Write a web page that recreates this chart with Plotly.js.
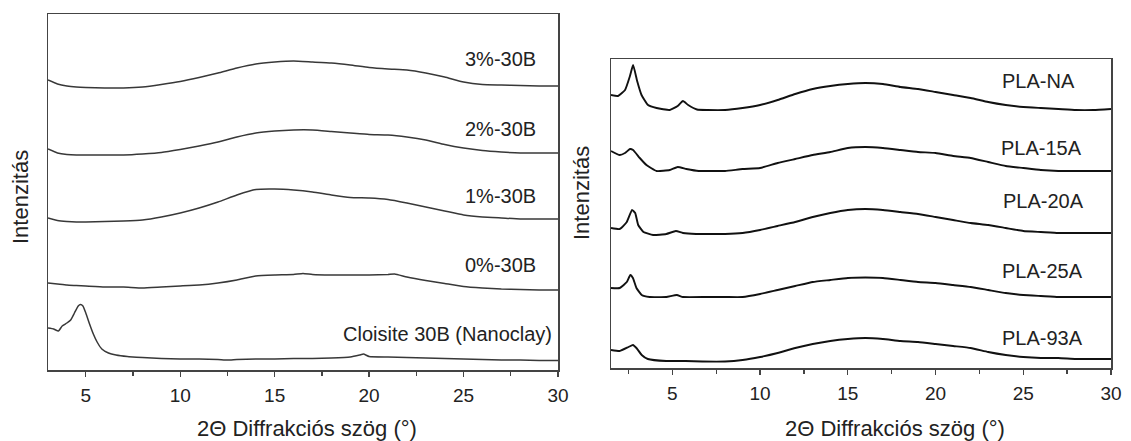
<!DOCTYPE html>
<html>
<head>
<meta charset="utf-8">
<script src="https://cdn.plot.ly/plotly-3.0.1.min.js"></script>
<style>
html,body{margin:0;padding:0;background:#fff;}
#chart{width:1131px;height:441px;}
</style>
</head>
<body>
<div id="chart"></div>
<script>
// ---------- Left panel: PLA / Cloisite 30B ----------
var leftNames = ["3%-30B", "2%-30B", "1%-30B", "0%-30B", "Cloisite 30B (Nanoclay)"];

var x3pct = [3,3.5,4,4.5,5,6,7,8,9,10,11,12,13,14,15,16,17,18,19,20,21,22,23,24,25,26,27,28,29,30];
var y3pct = [290,286,284,283,282.5,282,282,283,285.5,288.5,292.5,297,302,306,308,309,308,307,305,302.5,301,300,297,293,288,285.5,285,284.5,284,284];

var x2pct = [3,3.5,4,4.5,5,6,7,8,9,10,11,12,13,14,15,16,17,18,19,20,21,22,23,24,25,26,27,28,29,30];
var y2pct = [221,217,215.5,215,215,215,215,216,217.5,220.5,224,228,233,237,239,240,240,238.5,237,235.5,235,233,230,225.5,222,219.5,218,217,217,217];

var x1pct = [3,3.5,4,4.5,5,6,7,8,9,10,11,12,13,14,15,16,17,18,19,20,21,22,23,24,25,26,27,28,29,30];
var y1pct = [152,149.5,148.5,148,148,148.5,149,150,153,157,162,168,175,180.5,181,180,178,175,172.5,172,170.5,167,163,159,155,153,152,151,151,151];

var x0pct = [3,3.5,4,4.5,5,6,7,8,9,10,11,12,13,14,15,16,16.5,17,18,19,20,21,21.35,22,23,24,25,26,27,28,29,30];
var y0pct = [87,86,85,84.5,84,83,83,82,83,84,85,87,90,94,95,95.5,96.5,95.5,95,95,95,95.5,96,93,89.5,86.5,83.5,82,81,80.5,80,80];

var xClay = [3,3.3,3.55,3.75,4,4.2,4.4,4.6,4.72,4.85,5,5.2,5.4,5.6,5.85,6.2,6.6,7.2,8,9,10,11,12,12.5,13,14,15,16,17,18,19,19.5,19.7,20,21,22,23,24,25,26,27,28,29,30];
var yClay = [42,41,39,44,47,50,57,64,65.5,64,57,46,36,28,21,17,15,13.5,12.5,11.5,11,11,10.5,10,10.5,11,11,11.5,11.5,12,13,15,16,13.5,13,12.5,12,11.5,11,10.5,10,10,9.5,9.5];

// ---------- Right panel: PLA nanocomposites ----------
var rightNames = ["PLA-NA", "PLA-15A", "PLA-20A", "PLA-25A", "PLA-93A"];

var xNA = [1.5,1.9,2.3,2.58,2.76,2.99,3.24,3.61,4.1,4.85,5.3,5.6,5.9,6.4,7,8,9,10,11,12,13,14,15,16,17,18,19,20,21,22,23,24,25,26,27,28,29,30];
var yNA = [273,272,278,292,303,287,273,263,260,258,262,267,263,258.5,258,258,260,263,268,274,279,282,284,285,284,281,279,276,273,270,266,263,261,260,259,258,258,259];

var x15A = [1.5,2.0,2.3,2.58,2.76,3.14,3.52,4.1,4.85,5.3,5.8,6.5,7,8,9,10,11,12,13,14,15,16,17,18,19,20,21,22,23,24,25,26,27,28,29,30];
var y15A = [217,213,215,219,218,210,203,197,198,201,199,197,197,197,199,200,205,209,213,216,220,221,220,218,216,215,212,210,206,202,200,198,197,197,197,197];

var x20A = [1.5,2.0,2.4,2.7,2.88,3.05,3.35,3.9,4.65,5.2,5.6,6.35,7,8,9,10,11,12,13,14,15,16,17,18,19,20,21,22,23,24,25,26,27,28,29,30];
var y20A = [140,139,146,158,155,143,136,133,134,137,135,134,134,134,135,138,142,146,151,155,158,159,158,156,154,151,148,145,143,140,137,136,135,135,135,135];

var x25A = [1.5,2.0,2.4,2.6,2.75,2.95,3.25,3.7,4.65,5.25,5.6,7,8,9,10,11,12,13,14,15,16,17,18,19,20,21,22,23,24,25,26,27,28,29,30];
var y25A = [80,80,86,93,90,80,73,71,71,73,71,71,71,71,74,78,82,86,88,90,90.5,90,88,86,85,83,81,78,75,73,72,71,71,71,71];

var x93A = [1.5,2.0,2.5,2.75,2.95,3.25,3.6,4.65,5.75,6.7,8,9,10,11,12,13,14,15,16,17,18,19,20,21,22,23,24,25,26,27,28,29,30];
var y93A = [18,17,21,23,20,13,9,7,7,6.5,6.5,8,11,15,20,24,27,29,30,29,27,26,24,22,20,16,13,11,10,10,9,9,9];

var xTitle = "2\u0398 Diffrakci\u00f3s sz\u00f6g (\u00b0)";
var yTitle = "Intenzit\u00e1s";

// ---------- build traces ----------
var leftX = [x3pct, x2pct, x1pct, x0pct, xClay];
var leftY = [y3pct, y2pct, y1pct, y0pct, yClay];
var rightX = [xNA, x15A, x20A, x25A, x93A];
var rightY = [yNA, y15A, y20A, y25A, y93A];

var traces = [];
for (var i = 0; i < leftNames.length; i++) {
  traces.push({
    type: "scatter", mode: "lines", name: leftNames[i],
    x: leftX[i], y: leftY[i], xaxis: "x", yaxis: "y",
    line: {color: "#383838", width: 1.5, shape: "spline", smoothing: 0.4},
    hoverinfo: "skip"
  });
}
for (var j = 0; j < rightNames.length; j++) {
  traces.push({
    type: "scatter", mode: "lines", name: rightNames[j],
    x: rightX[j], y: rightY[j], xaxis: "x2", yaxis: "y2",
    line: {color: "#111111", width: 1.9, shape: "spline", smoothing: 0.4},
    hoverinfo: "skip"
  });
}

// ---------- label anchor positions (layout) ----------
var leftLabelPos = [[28.92, 311], [28.92, 241], [28.92, 174], [28.92, 105], [29.77, 36]];
var rightLabelPos = [[28.07, 287], [28.45, 220.5], [28.58, 167.5], [28.52, 97.5], [28.52, 30.5]];

var txtFont = {family: "Arial, 'Liberation Sans', sans-serif", size: 20, color: "#222"};
var annotations = [];
leftNames.forEach(function (n, k) {
  annotations.push({text: n, x: leftLabelPos[k][0], y: leftLabelPos[k][1], xref: "x", yref: "y",
    xanchor: "right", yanchor: "middle", showarrow: false, font: txtFont});
});
rightNames.forEach(function (n, k) {
  annotations.push({text: n, x: rightLabelPos[k][0], y: rightLabelPos[k][1], xref: "x2", yref: "y2",
    xanchor: "right", yanchor: "middle", showarrow: false, font: txtFont});
});
var titleFont = {family: "Arial, 'Liberation Sans', sans-serif", size: 22, color: "#222"};
annotations.push({text: xTitle, x: 307 / 1131, y: 1 - 428 / 441, xref: "paper", yref: "paper",
  xanchor: "center", yanchor: "middle", showarrow: false, font: titleFont});
annotations.push({text: xTitle, x: 894.5 / 1131, y: 1 - 428 / 441, xref: "paper", yref: "paper",
  xanchor: "center", yanchor: "middle", showarrow: false, font: titleFont});
annotations.push({text: yTitle, x: 20 / 1131, y: 1 - 197 / 441, xref: "paper", yref: "paper",
  xanchor: "center", yanchor: "middle", textangle: -90, showarrow: false, font: titleFont});
annotations.push({text: yTitle, x: 581 / 1131, y: 1 - 193 / 441, xref: "paper", yref: "paper",
  xanchor: "center", yanchor: "middle", textangle: -90, showarrow: false, font: titleFont});

function xAxis(domain, range, anchor) {
  return {
    domain: domain, range: range, anchor: anchor,
    showline: true, mirror: true, linecolor: "#444", linewidth: 1.5,
    showgrid: false, zeroline: false,
    ticks: "outside", ticklen: 5, tickwidth: 1.3, tickcolor: "#444",
    tick0: 0, dtick: 5,
    tickfont: {family: "Arial, 'Liberation Sans', sans-serif", size: 19, color: "#222"},
    ticklabelstandoff: 3,
    minor: {tick0: 0, dtick: 2.5, ticks: "outside", ticklen: 4, tickwidth: 1.3, tickcolor: "#444", showgrid: false},
    fixedrange: true
  };
}
function yAxis(domain, range, anchor) {
  return {
    domain: domain, range: range, anchor: anchor,
    showline: true, mirror: true, linecolor: "#444", linewidth: 1.5,
    showgrid: false, zeroline: false, ticks: "", showticklabels: false,
    fixedrange: true
  };
}

var layout = {
  width: 1131, height: 441,
  margin: {l: 0, r: 0, t: 0, b: 0},
  paper_bgcolor: "#ffffff", plot_bgcolor: "#ffffff",
  showlegend: false,
  xaxis: xAxis([48 / 1131, 558 / 1131], [3, 30], "y"),
  yaxis: yAxis([1 - 370 / 441, 1 - 14 / 441], [0, 356], "x"),
  xaxis2: xAxis([611 / 1131, 1111 / 1131], [1.5, 30], "y2"),
  yaxis2: yAxis([1 - 368 / 441, 1 - 59 / 441], [0, 309], "x2"),
  annotations: annotations
};

Plotly.newPlot("chart", traces, layout, {displayModeBar: false, staticPlot: true});
</script>
</body>
</html>
